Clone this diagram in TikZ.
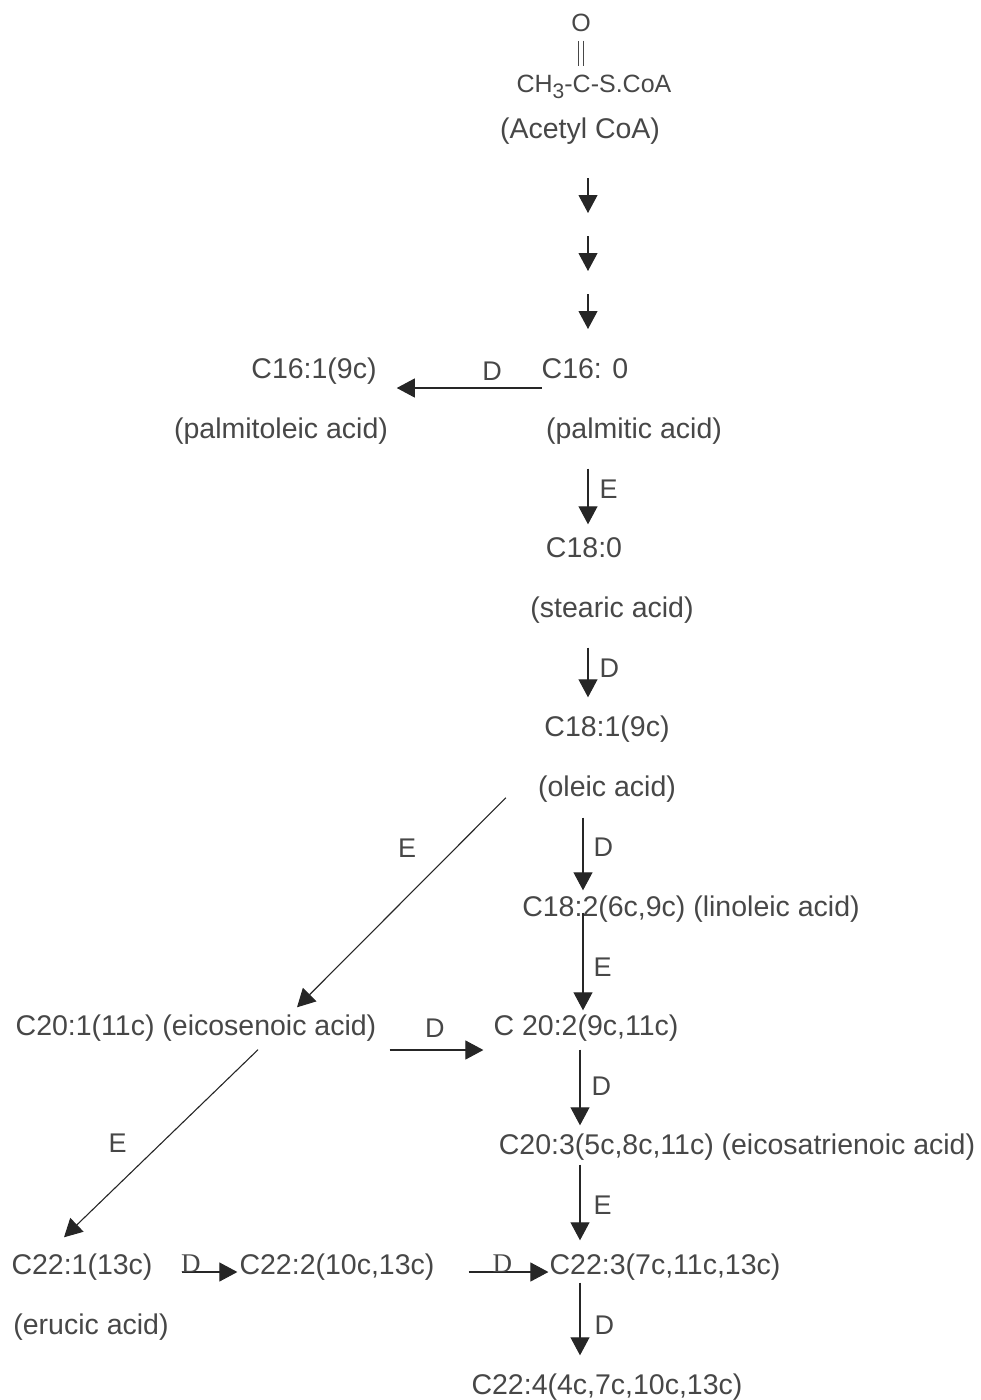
\documentclass[tikz,border=0pt]{standalone}
\usepackage{fontspec}
\setmainfont{Liberation Sans}
\newfontfamily\dserif{Liberation Serif}
\usetikzlibrary{arrows.meta,positioning}

\begin{document}
\begin{tikzpicture}[x=1pt,y=-1pt,>={Triangle[width=19pt,length=18pt]},
   every node/.style={inner sep=0pt,text height=21pt,text depth=6pt,text=black!72,
                      font=\fontsize{28.5}{34}\selectfont},
   arr/.style={->,draw=black!85,line width=1.1pt},
   lbl/.style={font=\fontsize{27}{32}\selectfont},
   dlbl/.style={font=\dserif\fontsize{27}{30}\selectfont},
   formula/.style={font=\fontsize{25}{30}\selectfont}]
   \useasboundingbox (0,0) rectangle (981,1400);
   % columns of the vertical arrows
   \coordinate (col1) at (588,0);
   \coordinate (col2) at (583,0);
   \coordinate (col3) at (580,0);

   \node[formula] (oxy)   at (581,24)  {O};
   \node[formula] (acyl)  at (594,85)  {CH\raisebox{-6pt}{\fontsize{21}{21}\selectfont 3}-C-S.CoA};
   \node (acetyl)         at (580,131) {(Acetyl CoA)};
   \node (c161)           at (314,371) {C16:1(9c)};
   \node (c160)           at (585,371) {C16: 0};
   \node (palmitoleic)    at (281,431) {(palmitoleic acid)};
   \node (palmitic)       at (634,431) {(palmitic acid)};
   \node (c180)           at (584,550) {C18:0};
   \node (stearic)        at (612,610) {(stearic acid)};
   \node (c181)           at (607,729) {C18:1(9c)};
   \node (oleic)          at (607,789) {(oleic acid)};
   \node (c182)           at (691,909) {C18:2(6c,9c) (linoleic acid)};
   \node (c201)           at (196,1028) {C20:1(11c) (eicosenoic acid)};
   \node (c202)           at (586,1028) {C 20:2(9c,11c)};
   \node (c203)           at (737,1147) {C20:3(5c,8c,11c) (eicosatrienoic acid)};
   \node (c221)           at (82,1267)  {C22:1(13c)};
   \node (c222)           at (337,1267) {C22:2(10c,13c)};
   \node (c223)           at (665,1267) {C22:3(7c,11c,13c)};
   \node (erucic)         at (91,1327)  {(erucic acid)};
   \node (c224)           at (607,1387) {C22:4(4c,7c,10c,13c)};

   % C=O bond
   \draw[black!72,line width=1.1pt,double distance=4pt,shorten <=3pt,shorten >=5pt]
      (oxy.south) -- (oxy.south |- acyl.north);

   % acetyl CoA down to palmitate
   \foreach \i/\y in {1/178,2/236,3/294} {
      \coordinate (a\i) at (588,\y);
      \coordinate (b\i) at (588,\y+35);
      \draw[arr] (a\i) -- (b\i);
   }

   \draw[arr,shorten >=20pt] ([yshift=-17pt]c160.west) -- ([yshift=-17pt]c161.east)
      node[lbl,pos=0.3,above=1pt] {D};
   \draw[arr,shorten <=24pt,shorten >=12pt] (palmitic.south -| col1) -- (c180.north -| col1)
      node[lbl,midway,right=11pt] {E};
   \draw[arr,shorten <=24pt,shorten >=18pt] (stearic.south -| col1) -- (c181.north -| col1)
      node[lbl,midway,right=11pt] {D};
   \draw[arr,shorten <=15pt,shorten >=5pt] (oleic.south -| col2) -- (c182.north -| col2)
      node[lbl,midway,right=10pt] {D};
   \draw[arr,shorten <=-10pt,shorten >=4pt] (c182.south -| col2) -- (c202.north -| col2)
      node[lbl,midway,right=10pt] {E};
   \draw[arr,shorten <=8pt,shorten >=8pt] (c202.south -| col3) -- (c203.north -| col3)
      node[lbl,midway,right=11pt] {D};
   \draw[arr,shorten <=4pt,shorten >=13pt] (c203.south -| col3) -- (c223.north -| col3)
      node[lbl,midway,right=13pt] {E};
   \draw[arr,shorten <=2pt,shorten >=18pt] (c223.south -| col3) -- (c224.north -| col3)
      node[lbl,midway,right=14pt] {D};

   \draw[arr] ([xshift=-32pt,yshift=5pt]oleic.south west) -- ([xshift=101pt,yshift=7pt]c201.north)
      node[lbl,pos=0.25,left=37pt] {E};
   \draw[arr,shorten <=13pt,shorten >=10pt] ([yshift=-22pt]c201.east) -- ([yshift=-22pt]c202.west)
      node[lbl,midway,above=6pt] {D};
   \draw[arr] ([xshift=62pt,yshift=-8pt]c201.south) -- ([xshift=-18pt,yshift=16pt]c221.north)
      node[lbl,pos=0.51,left=32pt] {E};

   \draw[arr,shorten <=29pt,shorten >=2pt] ([yshift=-5pt]c221.east) -- ([yshift=-5pt]c222.west)
      node[dlbl,pos=0.44,anchor=base] {D};
   \draw[arr,shorten <=34pt,shorten >=1pt] ([yshift=-5pt]c222.east) -- ([yshift=-5pt]c223.west)
      node[dlbl,pos=0.59,anchor=base] {D};
\end{tikzpicture}
\end{document}
